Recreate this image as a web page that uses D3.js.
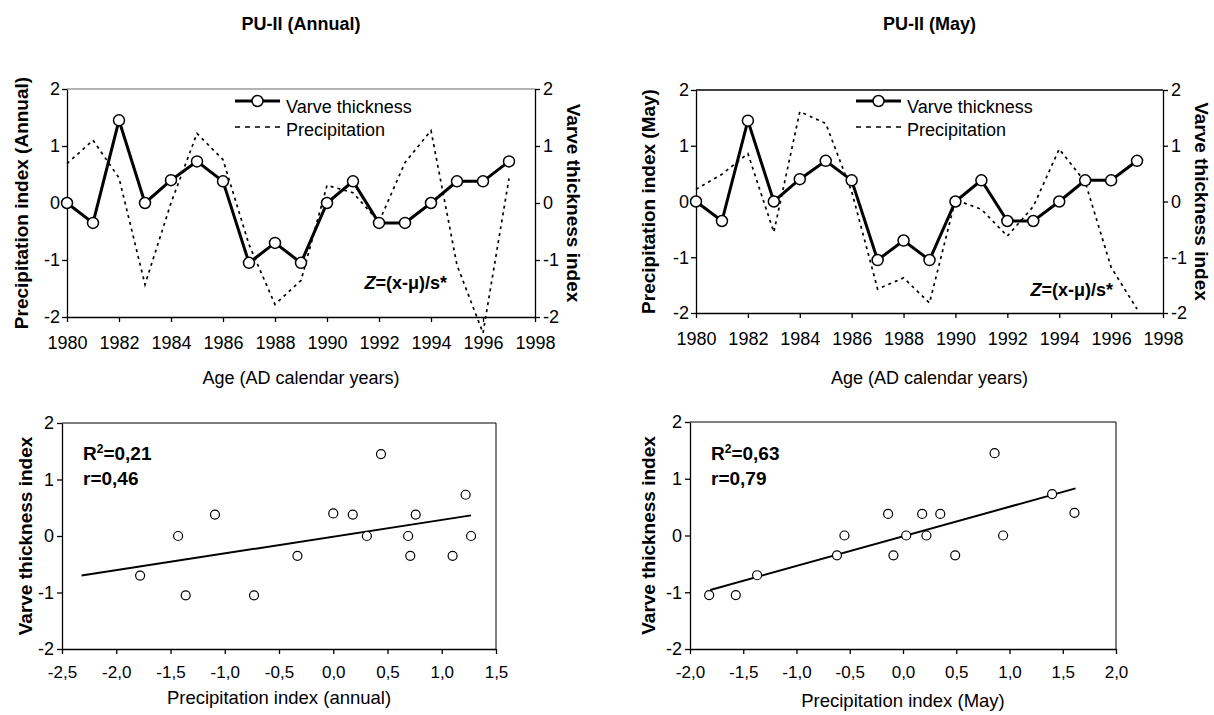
<!DOCTYPE html>
<html><head><meta charset="utf-8">
<script src="https://cdn.jsdelivr.net/npm/d3@7"></script>
<style>
body{margin:0;background:#fff;}
svg{font-family:"Liberation Sans",Arial,sans-serif;}
</style></head>
<body>
<svg id="c" width="1214" height="715"></svg>
<script>
// ---- data ----
const years = [1980,1981,1982,1983,1984,1985,1986,1987,1988,1989,1990,1991,1992,1993,1994,1995,1996,1997];
const varve = [0,-0.35,1.45,0,0.40,0.73,0.38,-1.05,-0.70,-1.05,0,0.38,-0.35,-0.35,0,0.38,0.38,0.73];
const precipAnnual = [0.69,1.10,0.44,-1.43,0.00,1.22,0.76,-0.73,-1.78,-1.36,0.31,0.18,-0.33,0.71,1.27,-1.09,-2.28,0.43];
const precipMay = [0.22,0.49,0.86,-0.55,1.61,1.40,0.18,-1.57,-1.37,-1.82,0.03,-0.14,-0.62,-0.09,0.94,0.35,-1.18,-1.93];
// scatter uses years 1980-1995
const scatterCount = 16;
const trendAnnualX = [-2.32, 1.27], trendAnnualY = [-0.70, 0.365];
const trendMayX = [-1.81, 1.62], trendMayY = [-0.96, 0.83];
const yTicks = [-2,-1,0,1,2];
const yearTicks = [1980,1982,1984,1986,1988,1990,1992,1994,1996,1998];
const annualXTicks = [-2.5,-2.0,-1.5,-1.0,-0.5,0.0,0.5,1.0,1.5];
const mayXTicks = [-2.0,-1.5,-1.0,-0.5,0.0,0.5,1.0,1.5,2.0];
const titles = ["PU-II (Annual)","PU-II (May)"];

const svg = d3.select("#c");
const FONT = "Liberation Sans, Arial, sans-serif";
const fmtComma = d => d3.format(".1f")(d).replace(".", ",").replace("−","-");

function styleAxis(g, fs){
  g.selectAll("path.domain").attr("stroke","#000").attr("stroke-width",1.3);
  g.selectAll(".tick line").attr("stroke","#000").attr("stroke-width",1.3);
  g.selectAll(".tick text").attr("font-size",fs).attr("font-family",FONT).attr("fill","#000");
}

function lineChart(o){
  const x = d3.scaleLinear().domain([1980,1998]).range([o.l,o.r]);
  const y = d3.scaleLinear().domain([-2,2]).range([o.b,o.t]);
  const g = svg.append("g");
  g.append("line").attr("x1",o.l).attr("x2",o.r).attr("y1",o.t).attr("y2",o.t)
    .attr("stroke",o.topColor).attr("stroke-width",1.3);
  const ax = g.append("g").attr("transform",`translate(0,${o.b})`)
    .call(d3.axisBottom(x).tickValues(yearTicks).tickFormat(d3.format("d")).tickSize(5).tickPadding(14).tickSizeOuter(0));
  styleAxis(ax,18);
  const ay = g.append("g").attr("transform",`translate(${o.l},0)`)
    .call(d3.axisLeft(y).tickValues(yTicks).tickFormat(d=>d<0?"-"+Math.abs(d):d).tickSize(5).tickPadding(2).tickSizeOuter(0));
  styleAxis(ay,18);
  const ay2 = g.append("g").attr("transform",`translate(${o.r},0)`)
    .call(d3.axisRight(y).tickValues(yTicks).tickFormat(d=>d<0?"-"+Math.abs(d):d).tickSize(5).tickPadding(3).tickSizeOuter(0));
  styleAxis(ay2,18);
  const ln = d3.line().x((d,i)=>x(years[i])).y(d=>y(d));
  g.append("path").datum(o.precip).attr("d",ln).attr("fill","none")
    .attr("stroke","#000").attr("stroke-width",1.7).attr("stroke-dasharray","3,4");
  g.append("path").datum(varve).attr("d",ln).attr("fill","none")
    .attr("stroke","#000").attr("stroke-width",3);
  g.selectAll("circle.v").data(varve).enter().append("circle")
    .attr("cx",(d,i)=>x(years[i])).attr("cy",d=>y(d)).attr("r",5.5)
    .attr("fill","#fff").attr("stroke","#000").attr("stroke-width",1.5);
  g.append("line").attr("x1",o.legX).attr("x2",o.legX+45).attr("y1",101).attr("y2",101)
    .attr("stroke","#000").attr("stroke-width",3);
  g.append("circle").attr("cx",o.legX+22.5).attr("cy",101).attr("r",5.5)
    .attr("fill","#fff").attr("stroke","#000").attr("stroke-width",1.5);
  g.append("text").attr("x",o.legX+51).attr("y",113).attr("font-size",18).text("Varve thickness");
  g.append("line").attr("x1",o.legX).attr("x2",o.legX+45).attr("y1",127).attr("y2",127)
    .attr("stroke","#000").attr("stroke-width",1.6).attr("stroke-dasharray","5,5");
  g.append("text").attr("x",o.legX+51).attr("y",136).attr("font-size",18).text("Precipitation");
  const zt = g.append("text").attr("x",o.zX).attr("y",o.zY).attr("text-anchor","end")
    .attr("font-size",18).attr("font-weight","bold");
  zt.append("tspan").attr("font-style","italic").text("Z");
  zt.append("tspan").text("=(x-μ)/s*");
  g.append("text").attr("x",(o.l+o.r)/2).attr("y",30).attr("text-anchor","middle")
    .attr("font-size",18).attr("font-weight","bold").text(o.title);
  g.append("text").attr("x",(o.l+o.r)/2).attr("y",384).attr("text-anchor","middle")
    .attr("font-size",18).text("Age (AD calendar years)");
  g.append("text").attr("transform",`translate(${o.ltX},${(o.t+o.b)/2}) rotate(-90)`)
    .attr("text-anchor","middle").attr("font-size",19).attr("font-weight","bold").text(o.leftTitle);
  g.append("text").attr("transform",`translate(${o.rtX},${(o.t+o.b)/2}) rotate(90)`)
    .attr("text-anchor","middle").attr("font-size",19).attr("font-weight","bold").text("Varve thickness index");
}

function scatterChart(o){
  const x = d3.scaleLinear().domain(o.dom).range([o.l,o.r]);
  const y = d3.scaleLinear().domain([-2,2]).range([o.b,o.t]);
  const g = svg.append("g");
  g.append("polyline").attr("points",`${o.l},${o.t} ${o.r},${o.t} ${o.r},${o.b}`)
    .attr("fill","none").attr("stroke","#000").attr("stroke-width",1);
  const ax = g.append("g").attr("transform",`translate(0,${o.b})`)
    .call(d3.axisBottom(x).tickValues(o.xt).tickFormat(fmtComma).tickSize(5).tickPadding(12).tickSizeOuter(0));
  styleAxis(ax,17);
  const ay = g.append("g").attr("transform",`translate(${o.l},0)`)
    .call(d3.axisLeft(y).tickValues(yTicks).tickFormat(d=>d<0?"-"+Math.abs(d):d).tickSize(5).tickPadding(3).tickSizeOuter(0));
  styleAxis(ay,18);
  const pts = d3.range(scatterCount).map(i=>[o.px[i], varve[i]]);
  g.append("line").attr("x1",x(o.tx[0])).attr("y1",y(o.ty[0])).attr("x2",x(o.tx[1])).attr("y2",y(o.ty[1]))
    .attr("stroke","#000").attr("stroke-width",2);
  g.selectAll("circle").data(pts).enter().append("circle")
    .attr("cx",d=>x(d[0])).attr("cy",d=>y(d[1])).attr("r",4.5)
    .attr("fill","#fff").attr("stroke","#000").attr("stroke-width",1.2);
  const t1 = g.append("text").attr("x",o.l+21).attr("y",460).attr("font-size",19).attr("font-weight","bold");
  t1.append("tspan").text("R");
  t1.append("tspan").attr("font-size",12).attr("dy",-7).text("2");
  t1.append("tspan").attr("dy",7).text("="+o.r2);
  g.append("text").attr("x",o.l+21).attr("y",485).attr("font-size",19).attr("font-weight","bold").text("r="+o.rr);
  g.append("text").attr("x",(o.l+o.r)/2).attr("y",o.xtY).attr("text-anchor","middle")
    .attr("font-size",18.5).text(o.xTitle);
  g.append("text").attr("transform",`translate(${o.ltX},${(o.t+o.b)/2}) rotate(-90)`)
    .attr("text-anchor","middle").attr("font-size",19).attr("font-weight","bold").text("Varve thickness index");
}

lineChart({l:67,r:535,t:89,b:317,precip:precipAnnual,topColor:"#999",legX:235,zX:447,zY:289,
  title:titles[0],leftTitle:"Precipitation index (Annual)",ltX:28,rtX:567});
lineChart({l:696,r:1163,t:90,b:313,precip:precipMay,topColor:"#000",legX:856,zX:1113,zY:296,
  title:titles[1],leftTitle:"Precipitation index (May)",ltX:655,rtX:1195});
scatterChart({l:62,r:496,t:423,b:649,dom:[-2.5,1.5],xt:annualXTicks,px:precipAnnual,
  tx:trendAnnualX,ty:trendAnnualY,r2:"0,21",rr:"0,46",xTitle:"Precipitation index (annual)",xtY:704,ltX:32});
scatterChart({l:690,r:1116,t:422,b:649,dom:[-2.0,2.0],xt:mayXTicks,px:precipMay,
  tx:trendMayX,ty:trendMayY,r2:"0,63",rr:"0,79",xTitle:"Precipitation index (May)",xtY:707,ltX:655});
</script>
</body></html>
